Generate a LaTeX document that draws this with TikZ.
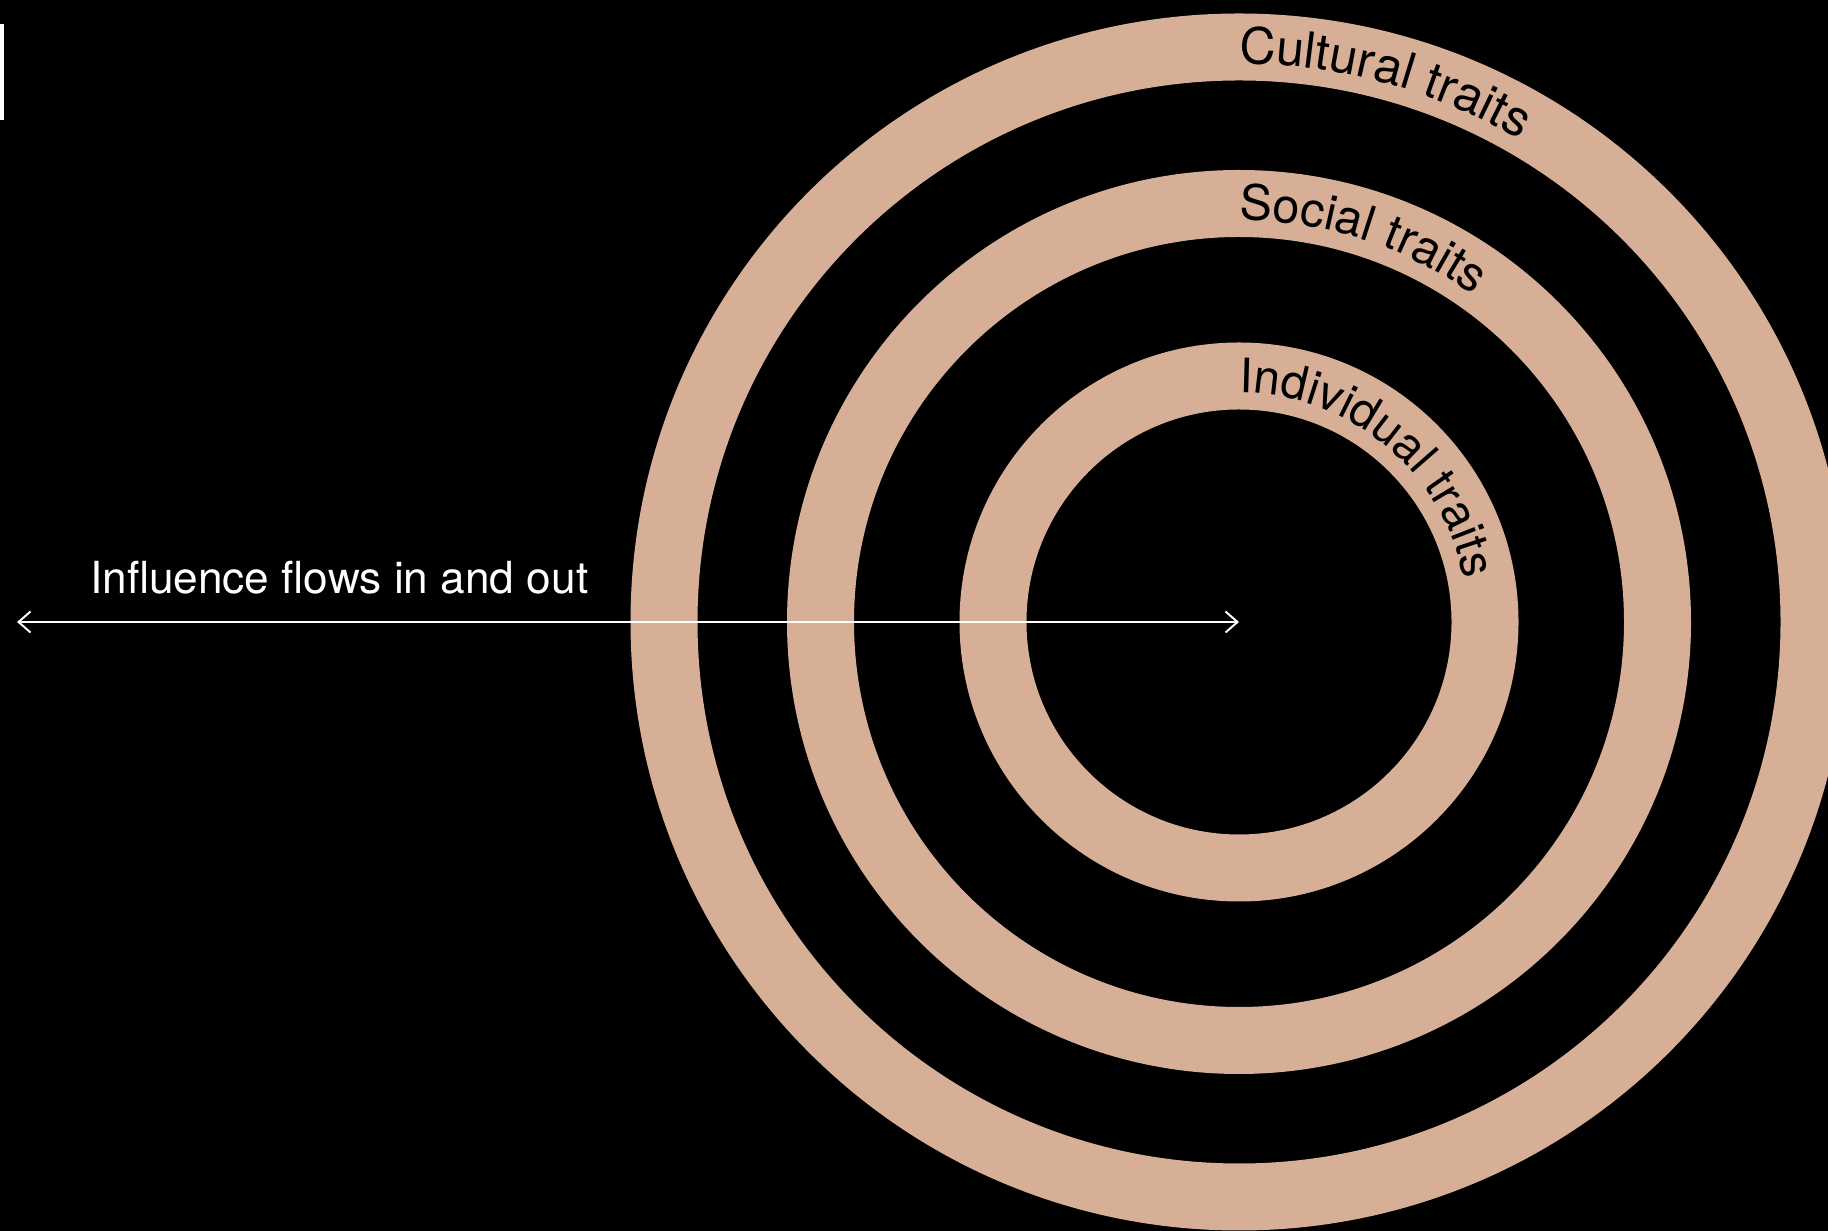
\documentclass[tikz,border=0pt]{standalone}
\usepackage{fontspec}
\setmainfont{TeX Gyre Heros}
\usetikzlibrary{arrows.meta,decorations.text}
\definecolor{ringtan}{RGB}{214,175,150}

\begin{document}
\begin{tikzpicture}[x=1pt,y=1pt,
  ring/.style={draw=ringtan,line width=67pt},
  flow/.style={draw=white,line width=2pt,
    {Straight Barb[length=12pt,width=21pt]}-{Straight Barb[length=12pt,width=21pt]}},
  ring label/.style 2 args={decorate,decoration={text along path,text align=left,
    text={|\fontsize{#2}{#2}\selectfont|#1}}}]

\fill[black] (0,0) rectangle (1828,1231);
\clip (0,0) rectangle (1828,1231);

\coordinate (hub) at (1239,609);
\coordinate (edge) at (17,609);

% rings, outer to inner
\draw[ring] (hub) circle[radius=575];
\draw[ring] (hub) circle[radius=418.5];
\draw[ring] (hub) circle[radius=246];

% ring names set along the arcs
\path[ring label={Cultural traits}{50}] (hub) ++(90:558) arc[start angle=90,end angle=-90,radius=558];
\path[ring label={Social traits}{48.5}] (hub) ++(90:402) arc[start angle=90,end angle=-90,radius=402];
\path[ring label={Individual traits}{47.5}] (hub) ++(90:229) arc[start angle=90,end angle=-90,radius=229];

\draw[flow] (edge) -- (hub);
\node[anchor=base west,inner sep=0,text=white,font=\fontsize{44.2}{44.2}\selectfont]
  (flowlabel) at (90,637) {Influence flows in and out};

\fill[white] (0,1207) rectangle (3.5,1111);

\end{tikzpicture}
\end{document}
